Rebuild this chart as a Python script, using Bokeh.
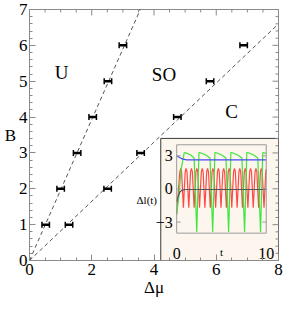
from bokeh.plotting import figure
from bokeh.models import (Range1d, Whisker, TeeHead, LinearAxis,
                          SingleIntervalTicker, ColumnDataSource)
from bokeh.core.properties import value
from bokeh.embed import file_html
from bokeh.resources import INLINE

# ---------------- data ----------------
B_levels = [1, 2, 3, 4, 5, 6]
dmu_U = [0.52, 1.0, 1.53, 2.03, 2.52, 3.0]      # U / SO boundary points
dmu_C = [1.27, 2.51, 3.57, 4.75, 5.80, 6.88]    # SO / C boundary points
dmu_err = [0.12, 0.12, 0.12, 0.12, 0.12, 0.12]
slope_U = 1.966
slope_C = 0.825

region_text = ["U", "SO", "C"]
region_x = [1.03, 4.32, 6.49]
region_y = [5.23, 5.18, 4.15]

x_major = [0, 2, 4, 6, 8]
x_minor = [0.5, 1, 1.5, 2.5, 3, 3.5, 4.5, 5, 5.5, 6.5, 7, 7.5]
y_major = [0, 1, 2, 3, 4, 5, 6, 7]
y_minor = [0.2, 0.4, 0.6, 0.8, 1.2, 1.4, 1.6, 1.8, 2.2, 2.4, 2.6, 2.8,
           3.2, 3.4, 3.6, 3.8, 4.2, 4.4, 4.6, 4.8, 5.2, 5.4, 5.6, 5.8,
           6.2, 6.4, 6.6, 6.8]

# inset time series  Δl(t)
red_t = [0.0, 0.35, 0.45, 0.55, 0.75,
         0.95, 1.05, 1.15, 1.35,
         1.55, 1.65, 1.75, 1.95,
         2.15, 2.25, 2.35, 2.55,
         2.75, 2.85, 2.95, 3.15,
         3.35, 3.45, 3.55, 3.75,
         3.95, 4.05, 4.15, 4.35,
         4.55, 4.65, 4.75, 4.95,
         5.15, 5.25, 5.35, 5.55,
         5.75, 5.85, 5.95, 6.15,
         6.35, 6.45, 6.55, 6.75,
         6.95, 7.05, 7.15, 7.35,
         7.55, 7.65, 7.75, 7.95,
         8.15, 8.25, 8.35, 8.55,
         8.75, 8.85, 8.95, 9.15,
         9.35, 9.45, 9.55, 9.75,
         9.95, 10.0]
red_v = [-2.3, 1.55, 1.85, 1.55, -1.7,
         1.55, 1.85, 1.55, -1.7,
         1.55, 1.85, 1.55, -1.7,
         1.55, 1.85, 1.55, -1.7,
         1.55, 1.85, 1.55, -1.7,
         1.55, 1.85, 1.55, -1.7,
         1.55, 1.85, 1.55, -1.7,
         1.55, 1.85, 1.55, -1.7,
         1.55, 1.85, 1.55, -1.7,
         1.55, 1.85, 1.55, -1.7,
         1.55, 1.85, 1.55, -1.7,
         1.55, 1.85, 1.55, -1.7,
         1.55, 1.85, 1.55, -1.7,
         1.55, 1.85, 1.55, -1.7,
         1.55, 1.85, 1.55, -1.7,
         1.55, 1.85, 1.55, -1.7,
         1.55, 1.8]

green_t = [0.0, 0.25, 0.5, 0.85, 1.1, 1.6, 1.95, 2.24,
           2.49, 2.75, 3.3, 3.72, 4.02,
           4.27, 4.53, 5.08, 5.5, 5.80,
           6.05, 6.31, 6.86, 7.28, 7.58,
           7.83, 8.09, 8.64, 9.06, 9.36,
           9.61, 9.87, 10.0]
green_v = [-2.3, -0.6, 1.8, 3.3, 3.25, 3.05, 2.8, -3.9,
           3.3, 3.25, 3.05, 2.8, -3.9,
           3.3, 3.25, 3.05, 2.8, -3.9,
           3.3, 3.25, 3.05, 2.8, -3.9,
           3.3, 3.25, 3.05, 2.8, -3.9,
           3.3, 3.25, 3.2]

blue_t = [0.0, 0.3, 0.7, 1.1, 10.0]
blue_v = [3.0, 2.85, 2.7, 2.63, 2.63]

gray_t = [0.0, 0.15, 0.35, 0.6, 1.0, 10.0]
gray_v = [-1.2, -0.7, -0.3, -0.1, -0.05, -0.05]

inset_ytick_vals = [3, 0, -3]
inset_ytick_text = ["3", "0", "\u22123"]
inset_xtick_vals = [0, 10]
inset_xtick_text = ["0", "10"]

# ---------------- layout (figure pixels) ----------------
W, H = 283, 302
FL, FR, FT, FB = 29, 278, 9, 260          # main frame
XMAX, YMAX = 8, 7
SERIF = "Liberation Serif"
FRAME_C = "#8a8a8a"

# reference-picture pixel -> figure pixel
RFL, RFR, RFT, RFB = 29, 287, 9, 266


def px(rx):
    return FL + (rx - RFL) * (FR - FL) / (RFR - RFL)


def py(ry):
    return FT + (ry - RFT) * (FB - FT) / (RFB - RFT)


IL, IR, IT, IB = px(181.5), px(274.3), py(147.5), py(238)  # inset inner frame
T0, T1, V0, V1 = 0, 10, -4, 4                              # inset data range
BOXL, BOXT = px(165), py(141)                              # inset outer box

sx = XMAX / (FR - FL)   # data per pixel
sy = YMAX / (FB - FT)


def mx(p_):
    return (p_ - FL) * sx


def my(p_):
    return (FB - p_) * sy


kx = (T1 - T0) / (IR - IL)
ky = (V1 - V0) / (IB - IT)
ix0 = T0 - (IL - FL) * kx
ix1 = T1 + (FR - IR) * kx
iy0 = V0 - (FB - IB) * ky
iy1 = V1 + (IT - FT) * ky


def itx(p_):
    return T0 + (p_ - IL) * kx


def ity(p_):
    return V1 - (p_ - IT) * ky


p = figure(frame_width=FR - FL, frame_height=FB - FT,
           min_border_left=FL, min_border_right=W - FR,
           min_border_top=FT, min_border_bottom=H - FB,
           x_range=Range1d(0, XMAX), y_range=Range1d(0, YMAX),
           output_backend="svg", toolbar_location=None,
           x_axis_location=None, y_axis_location=None)
p.grid.visible = False
p.outline_line_color = FRAME_C
p.background_fill_color = "white"
p.border_fill_color = "white"
p.extra_x_ranges = {"ix": Range1d(ix0, ix1)}
p.extra_y_ranges = {"iy": Range1d(iy0, iy1)}

for loc, tk, lab in [("below", SingleIntervalTicker(interval=2, num_minor_ticks=4), "\u0394\u03bc"),
                     ("left", SingleIntervalTicker(interval=1, num_minor_ticks=5), "B")]:
    ax = LinearAxis(ticker=tk, axis_label=lab)
    ax.axis_line_color = FRAME_C
    ax.major_tick_line_color = FRAME_C
    ax.minor_tick_line_color = FRAME_C
    ax.major_tick_in = 6
    ax.major_tick_out = 0
    ax.minor_tick_in = 3
    ax.minor_tick_out = 0
    ax.major_label_text_font = SERIF
    ax.major_label_text_font_size = "17px"
    ax.major_label_text_color = "black"
    ax.major_label_standoff = 3 if loc == "below" else 2
    ax.axis_label_text_font = SERIF
    ax.axis_label_text_font_size = "17px"
    ax.axis_label_text_font_style = "normal"
    ax.axis_label_text_color = "black"
    ax.axis_label_standoff = 0
    if loc == "left":
        ax.axis_label_orientation = "horizontal"
    p.add_layout(ax, loc)

# top / right frame ticks
p.segment(x0=x_major, x1=x_major, y0=[YMAX] * 5, y1=[YMAX - 6 * sy] * 5, line_color=FRAME_C)
p.segment(x0=x_minor, x1=x_minor, y0=[YMAX] * 12, y1=[YMAX - 3 * sy] * 12, line_color=FRAME_C)
p.segment(x0=[XMAX] * 8, x1=[XMAX - 6 * sx] * 8, y0=y_major, y1=y_major, line_color=FRAME_C, level="overlay")
p.segment(x0=[XMAX] * 28, x1=[XMAX - 3 * sx] * 28, y0=y_minor, y1=y_minor, line_color=FRAME_C, level="overlay")

# dashed boundary lines
p.line([0, XMAX], [0, XMAX * slope_U], line_dash="4 3", line_color="#555555", line_width=1)
p.line([0, XMAX], [0, XMAX * slope_C], line_dash="4 3", line_color="#555555", line_width=1)

# error-bar points
for xs in (dmu_U, dmu_C):
    src = ColumnDataSource(dict(
        B=B_levels,
        lo=[x - e for x, e in zip(xs, dmu_err)],
        hi=[x + e for x, e in zip(xs, dmu_err)]))
    w = Whisker(source=src, base="B", lower="lo", upper="hi", dimension="width",
                line_color="black", line_width=2.5, level="glyph",
                lower_head=TeeHead(size=6, line_width=1.5, line_color="black"),
                upper_head=TeeHead(size=6, line_width=1.5, line_color="black"))
    p.add_layout(w)

# region labels
p.text(x=region_x, y=region_y, text=region_text, text_font=value(SERIF),
       text_font_size="19px", text_align="center", text_baseline="middle",
       text_color="black")

# ---------------- inset ----------------
p.quad(left=[mx(BOXL)], right=[XMAX], bottom=[0], top=[my(BOXT)],
       fill_color="#fdf6ee", line_color="#3a3a3a", line_width=1)

IR_ = dict(x_range_name="ix", y_range_name="iy")
p.line(red_t, red_v, line_color="#ff2a2a", line_width=1.2, line_alpha=0.85, **IR_)
p.line(green_t, green_v, line_color="#3ee63e", line_width=1.2, **IR_)
p.line(blue_t, blue_v, line_color="#4646f0", line_width=1.2, **IR_)
p.line(gray_t, gray_v, line_color="#555555", line_width=1.2, **IR_)

p.quad(left=[T0], right=[T1], bottom=[V0], top=[V1], fill_color=None,
       line_color="#9a9a9a", line_width=1, **IR_)

tl = 4 * kx
p.segment(x0=[T0] * 3, x1=[T0 + tl] * 3, y0=inset_ytick_vals, y1=inset_ytick_vals,
          line_color="#9a9a9a", **IR_)
p.segment(x0=[T1] * 3, x1=[T1 - tl] * 3, y0=inset_ytick_vals, y1=inset_ytick_vals,
          line_color="#9a9a9a", **IR_)

p.text(x=[T0] * 3, y=inset_ytick_vals, text=inset_ytick_text, x_offset=-4,
       text_font=value(SERIF), text_font_size="16px", text_align="right",
       text_baseline="middle", text_color="black", **IR_)
p.text(x=inset_xtick_vals, y=[V0] * 2, text=inset_xtick_text, y_offset=20,
       text_font=value(SERIF), text_font_size="16px", text_align="center",
       text_baseline="alphabetic", text_color="black", **IR_)
p.text(x=[(T0 + T1) / 2], y=[V0], text=["t"], y_offset=19,
       text_font=value(SERIF), text_font_size="11px", text_align="center",
       text_baseline="alphabetic", text_color="black", **IR_)
p.text(x=[itx(px(150.5))], y=[ity(py(204))], text=["\u0394l(t)"],
       text_font=value(SERIF), text_font_size="11px", text_align="center",
       text_baseline="middle", text_color="black", **IR_)

open("out.html", "w").write(file_html(p, INLINE))
